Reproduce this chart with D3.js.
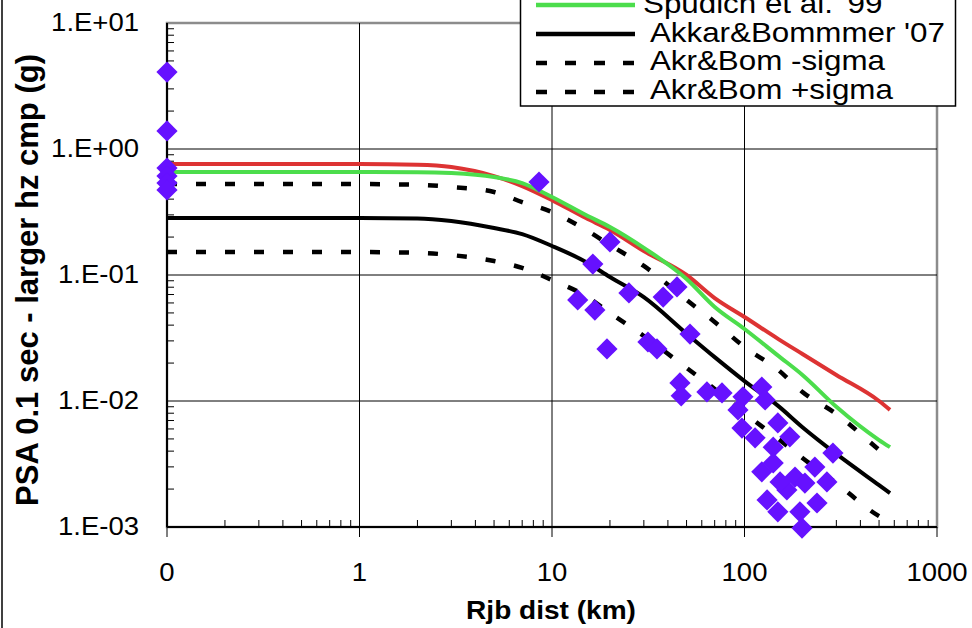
<!DOCTYPE html>
<html>
<head>
<meta charset="utf-8">
<script src="https://cdn.jsdelivr.net/npm/d3@7"></script>
<style>
  body { margin: 0; background: #fff; }
  svg { display: block; font-family: "Liberation Sans", Arial, sans-serif; }
  text { white-space: pre; }
</style>
</head>
<body>
<div id="chart"></div>
<script>
// model curves, sampled at these distances (km)
const dist = [0.1, 1, 2, 3, 5, 7, 10, 15, 20, 30, 50, 70, 100, 150, 200, 300, 500, 570]
const redModel = [0.76, 0.76, 0.75, 0.72, 0.61, 0.508, 0.393, 0.283, 0.228, 0.155, 0.100, 0.0656, 0.0464, 0.031, 0.0236, 0.0161, 0.010, 0.0085]
const spudich = [0.656, 0.656, 0.655, 0.645, 0.60, 0.537, 0.416, 0.299, 0.240, 0.164, 0.093, 0.0557, 0.0373, 0.0228, 0.0161, 0.0090, 0.0049, 0.0043]
const akkar = [0.283, 0.283, 0.281, 0.268, 0.236, 0.211, 0.170, 0.127, 0.0964, 0.0668, 0.0343, 0.0223, 0.0144, 0.0091, 0.0062, 0.0038, 0.00215, 0.00186]
const akkarPlus = [0.527, 0.527, 0.52, 0.50, 0.456, 0.379, 0.316, 0.228, 0.173, 0.118, 0.0634, 0.0424, 0.0268, 0.0176, 0.0118, 0.0079, 0.0041, 0.00347]
const akkarMinus = [0.152, 0.152, 0.15, 0.144, 0.129, 0.114, 0.0912, 0.068, 0.0499, 0.0328, 0.0183, 0.01245, 0.0080, 0.0050, 0.00353, 0.00223, 0.00122, 0.00110]

// recorded values (x=0 records plotted at the axis minimum)
const obsDist = [0.1, 0.1, 0.1, 0.1, 0.1, 0.1, 8.56, 20.0, 16.3, 13.6, 16.7, 19.3, 25.1, 44.6, 37.8, 31.5, 35.1, 52.1,
  46.2, 46.9, 63.8, 76.4, 98.2, 123, 128, 92.5, 97, 113.5, 149, 172, 141, 288, 123, 141, 183, 232, 268,
  131, 149, 166, 238, 199, 194, 206, 153]
const obsPsa = [4.08, 1.39, 0.706, 0.61, 0.537, 0.473, 0.547, 0.183, 0.122, 0.0634, 0.0527, 0.0259, 0.0720, 0.0804, 0.0668, 0.0294, 0.0259, 0.0340,
  0.0139, 0.0110, 0.0118, 0.0116, 0.0108, 0.0129, 0.0102, 0.0085, 0.0061, 0.0051, 0.0067, 0.0052, 0.0043, 0.00386, 0.00274, 0.00322, 0.00249, 0.00299, 0.00228,
  0.00164, 0.00132, 0.00197, 0.00155, 0.00098, 0.00132, 0.00223, 0.00228]

const xTicks = [0.1, 1, 10, 100, 1000]
const yTicks = [0.001, 0.01, 0.1, 1, 10]

const width = 972, height = 628
const stretch = "scale(1.1,1)"   // the original picture is a bit wide

const svg = d3.select("#chart").append("svg")
    .attr("width", width)
    .attr("height", height)

const x = d3.scaleLog().domain([0.1, 1000]).range([167, 937])
const y = d3.scaleLog().domain([0.001, 10]).range([527, 23])

// outer chart frame (only left edge shows)
svg.append("line")
    .attr("x1", 2).attr("x2", 2).attr("y1", 0).attr("y2", height)
    .attr("stroke", "#000").attr("stroke-width", 1.5)

// plot frame
svg.append("rect")
    .attr("x", x(0.1)).attr("y", y(10))
    .attr("width", x(1000) - x(0.1)).attr("height", y(0.001) - y(10))
    .attr("fill", "none").attr("stroke", "#8c8c8c").attr("stroke-width", 2.5)

// gridlines
svg.append("g")
    .selectAll("line")
    .data(xTicks.slice(1, -1))
    .join("line")
    .attr("x1", d => x(d)).attr("x2", d => x(d))
    .attr("y1", y(10)).attr("y2", y(0.001))
    .attr("stroke", "#000").attr("stroke-width", 1)
svg.append("g")
    .selectAll("line")
    .data(yTicks.slice(1, -1))
    .join("line")
    .attr("x1", x(0.1)).attr("x2", x(1000))
    .attr("y1", d => y(d)).attr("y2", d => y(d))
    .attr("stroke", "#000").attr("stroke-width", 1)

// minor ticks, inside the plot
const minor = (lo, hi) => {
    let out = []
    for (let p = lo; p < hi; p++)
        for (let m = 2; m <= 9; m++) out.push(m * Math.pow(10, p))
    return out
}
svg.append("g")
    .selectAll("line")
    .data(minor(-3, 1))
    .join("line")
    .attr("x1", x(0.1)).attr("x2", x(0.1) + 7)
    .attr("y1", d => y(d)).attr("y2", d => y(d))
    .attr("stroke", "#000").attr("stroke-width", 1)
svg.append("g")
    .selectAll("line")
    .data(minor(-1, 3))
    .join("line")
    .attr("x1", d => x(d)).attr("x2", d => x(d))
    .attr("y1", y(0.001)).attr("y2", y(0.001) - 7)
    .attr("stroke", "#000").attr("stroke-width", 1)

// major ticks on x, outward
svg.append("g")
    .selectAll("line")
    .data(xTicks)
    .join("line")
    .attr("x1", d => x(d)).attr("x2", d => x(d))
    .attr("y1", y(0.001)).attr("y2", y(0.001) + 10)
    .attr("stroke", "#000").attr("stroke-width", 1)

// axis lines
svg.append("line")
    .attr("x1", x(0.1)).attr("x2", x(0.1)).attr("y1", y(10)).attr("y2", y(0.001))
    .attr("stroke", "#000").attr("stroke-width", 2)
svg.append("line")
    .attr("x1", x(0.1)).attr("x2", x(1000)).attr("y1", y(0.001)).attr("y2", y(0.001))
    .attr("stroke", "#000").attr("stroke-width", 2)

// tick labels
const fmtY = v => {
    const e = Math.round(Math.log10(v))
    return "1.E" + (e < 0 ? "-" : "+") + String(Math.abs(e)).padStart(2, "0")
}
svg.append("g")
    .selectAll("text")
    .data(yTicks)
    .join("text")
    .attr("transform", d => `translate(139,${y(d) + 8}) ${stretch}`)
    .attr("text-anchor", "end")
    .attr("font-size", 25)
    .text(fmtY)
svg.append("g")
    .selectAll("text")
    .data(xTicks)
    .join("text")
    .attr("transform", d => `translate(${x(d)},581) ${stretch}`)
    .attr("text-anchor", "middle")
    .attr("font-size", 25)
    .text(d3.format(".0f"))

// axis titles
svg.append("text")
    .attr("transform", `translate(551,619) ${stretch}`)
    .attr("text-anchor", "middle")
    .attr("font-size", 25.5)
    .attr("font-weight", "bold")
    .text("Rjb dist (km)")
svg.append("text")
    .attr("transform", "translate(38,280) rotate(-90)")
    .attr("text-anchor", "middle")
    .attr("font-size", 31)
    .attr("font-weight", "bold")
    .text("PSA 0.1 sec - larger hz cmp (g)")

// model curves
const series = [
    {name: "", values: redModel, color: "#dd3333", dash: null},
    {name: "Spudich et al. '99", values: spudich, color: "#4cdd4c", dash: null},
    {name: " Akkar&Bommmer '07", values: akkar, color: "#000", dash: null},
    {name: " Akr&Bom -sigma", values: akkarMinus, color: "#000", dash: "10,19"},
    {name: " Akr&Bom +sigma", values: akkarPlus, color: "#000", dash: "10,19"}
]
const line = d3.line()
    .x(d => x(d[0]))
    .y(d => y(d[1]))
    .curve(d3.curveMonotoneX)

svg.append("g")
    .attr("fill", "none")
    .selectAll("path")
    .data(series)
    .join("path")
    .attr("d", s => line(dist.map((d, i) => [d, s.values[i]])))
    .attr("stroke", s => s.color)
    .attr("stroke-width", s => s.dash ? 4.5 : 4)
    .attr("stroke-dasharray", s => s.dash)

// recorded points as diamonds
const diamond = d3.symbol(d3.symbolSquare, 225)
svg.append("g")
    .selectAll("path")
    .data(obsDist.map((d, i) => [d, obsPsa[i]]))
    .join("path")
    .attr("d", diamond)
    .attr("transform", d => `translate(${x(d[0])},${y(d[1])}) rotate(45)`)
    .attr("fill", "#6611ff")

// legend, top of it runs off the picture
const legend = svg.append("g")
legend.append("rect")
    .attr("x", 520.5).attr("y", -30)
    .attr("width", 435).attr("height", 136)
    .attr("fill", "#fff").attr("stroke", "#000").attr("stroke-width", 1.5)

const shown = series.slice(1)
legend.selectAll("line")
    .data(shown)
    .join("line")
    .attr("x1", 536).attr("x2", 635)
    .attr("y1", (d, i) => 5 + i * 29).attr("y2", (d, i) => 5 + i * 29)
    .attr("stroke", d => d.color)
    .attr("stroke-width", 4.5)
    .attr("stroke-dasharray", d => d.dash ? "11,18" : null)
legend.selectAll("text")
    .data(shown)
    .join("text")
    .attr("transform", (d, i) => `translate(643,${13 + i * 28.5}) ${stretch}`)
    .attr("font-size", 28.5)
    .text(d => d.name)
</script>
</body>
</html>
